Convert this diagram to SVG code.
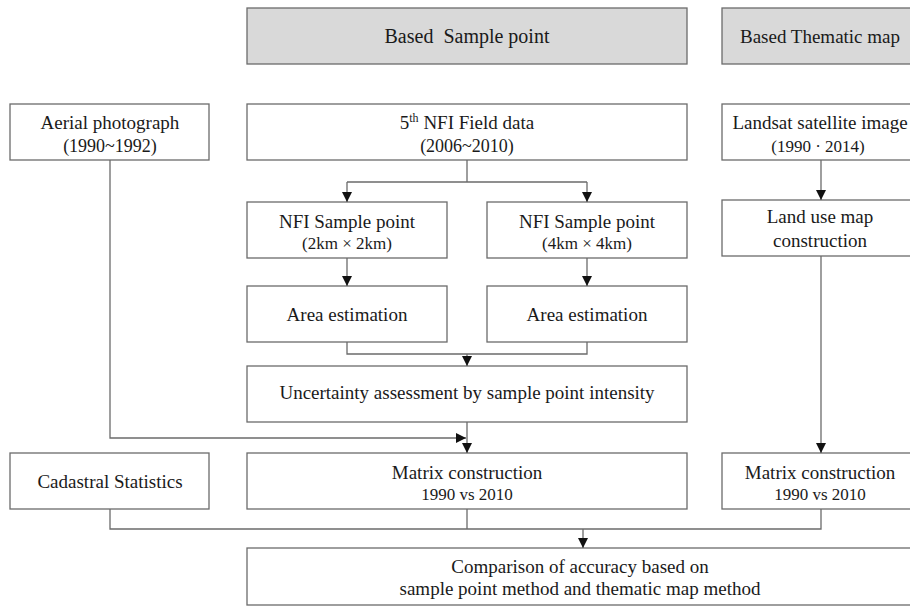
<svg xmlns="http://www.w3.org/2000/svg" width="910" height="606" viewBox="0 0 910 606">
<style>
.box{fill:#fff;stroke:#6b6b6b;stroke-width:1.3}
.hdr{fill:#d9d9d9;stroke:#6b6b6b;stroke-width:1.3}
.t{font-family:"Liberation Serif","Times New Roman",serif;fill:#1a1a1a;text-anchor:middle;font-size:19px}
.h{font-size:20px}
.s{font-size:17px}
.y{font-size:18px}
.c path{fill:none;stroke:#6b6b6b;stroke-width:1.3}
</style>
<defs>
<marker id="ah" viewBox="0 0 10 10" refX="10" refY="5" markerWidth="10" markerHeight="10" markerUnits="userSpaceOnUse" orient="auto">
<path d="M0,0 L10,5 L0,10 Z" fill="#111"/>
</marker>
</defs>
<rect width="910" height="606" fill="#fff"/>

<g id="hdr-sample"><rect class="hdr" x="247" y="8" width="440" height="56"/><text class="t h" x="467" y="43" xml:space="preserve">Based  Sample point</text></g>
<g id="hdr-thematic"><rect class="hdr" x="722" y="8" width="200" height="56"/><text class="t" x="820" y="43">Based Thematic map</text></g>

<g id="aerial"><rect class="box" x="10" y="104" width="199" height="56"/><text class="t" x="110" y="129">Aerial photograph</text><text class="t y" x="110" y="152">(1990~1992)</text></g>
<g id="field"><rect class="box" x="247" y="104" width="440" height="56"/><text class="t" x="467" y="129">5<tspan font-size="12" dy="-7">th</tspan><tspan dy="7"> NFI Field data</tspan></text><text class="t y" x="467" y="152">(2006~2010)</text></g>
<g id="landsat"><rect class="box" x="722" y="104" width="200" height="56"/><text class="t" x="820" y="129">Landsat satellite image</text><text class="t s" x="818" y="152">(1990 · 2014)</text></g>

<g id="nfi2"><rect class="box" x="247" y="202" width="200" height="56"/><text class="t" x="347" y="228">NFI Sample point</text><text class="t s" x="347" y="249">(2km × 2km)</text></g>
<g id="nfi4"><rect class="box" x="487" y="202" width="200" height="56"/><text class="t" x="587" y="228">NFI Sample point</text><text class="t s" x="587" y="249">(4km × 4km)</text></g>
<g id="landuse"><rect class="box" x="722" y="200" width="200" height="56"/><text class="t" x="820" y="223">Land use map</text><text class="t" x="820" y="247">construction</text></g>

<g id="area2"><rect class="box" x="247" y="286" width="200" height="56"/><text class="t" x="347" y="321">Area estimation</text></g>
<g id="area4"><rect class="box" x="487" y="286" width="200" height="56"/><text class="t" x="587" y="321">Area estimation</text></g>

<g id="uncert"><rect class="box" x="247" y="366" width="440" height="56"/><text class="t" x="467" y="399">Uncertainty assessment by sample point intensity</text></g>

<g id="cadastral"><rect class="box" x="10" y="453" width="199" height="56"/><text class="t" x="110" y="488">Cadastral Statistics</text></g>
<g id="matrix"><rect class="box" x="247" y="453" width="440" height="56"/><text class="t" x="467" y="479">Matrix construction</text><text class="t s" x="467" y="500">1990 vs 2010</text></g>
<g id="matrix-r"><rect class="box" x="722" y="453" width="200" height="56"/><text class="t" x="820" y="479">Matrix construction</text><text class="t s" x="820" y="500">1990 vs 2010</text></g>

<g id="compare"><rect class="box" x="247" y="548" width="680" height="57"/><text class="t" x="580" y="573">Comparison of accuracy based on</text><text class="t" x="580" y="595">sample point method and thematic map method</text></g>

<g id="connectors" class="c">
<path d="M467,160 V182 M347,182 H587"/>
<path d="M347,182 V202" marker-end="url(#ah)"/>
<path d="M587,182 V202" marker-end="url(#ah)"/>
<path d="M347,258 V286" marker-end="url(#ah)"/>
<path d="M587,258 V286" marker-end="url(#ah)"/>
<path d="M347,342 V354 H587 V342"/>
<path d="M467,354 V366" marker-end="url(#ah)"/>
<path d="M110,160 V438 H466" marker-end="url(#ah)"/>
<path d="M467,422 V453" marker-end="url(#ah)"/>
<path d="M821,160 V200" marker-end="url(#ah)"/>
<path d="M821,256 V453" marker-end="url(#ah)"/>
<path d="M110,509 V529 H821 V509 M467,509 V529"/>
<path d="M583,529 V548" marker-end="url(#ah)"/>
</g>
</svg>
